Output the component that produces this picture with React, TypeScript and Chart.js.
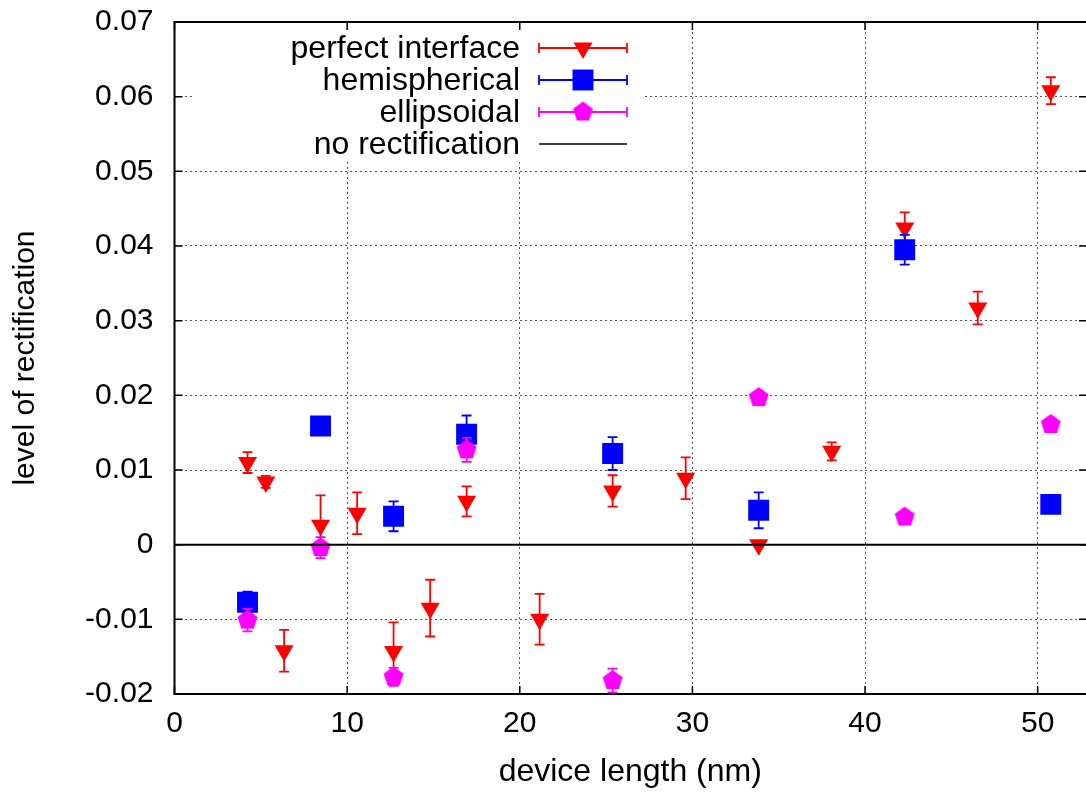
import React, { useEffect, useRef } from "react";
import { Chart, registerables } from "chart.js";

Chart.register(...registerables);

// ---- data ----
const xPerfect = [4.23, 5.29, 6.35, 8.46, 10.58, 12.69, 14.81, 16.92, 21.15, 25.38, 29.61, 33.84, 38.07, 42.3, 46.53, 50.76];
const yPerfect = [0.011, 0.0084, -0.0142, 0.0026, 0.0042, -0.0143, -0.0085, 0.0058, -0.01, 0.0072, 0.0089, 0.0, 0.0125, 0.0424, 0.0317, 0.0608];
const ePerfect = [0.0014, 0.0008, 0.0028, 0.004, 0.0028, 0.0039, 0.0038, 0.002, 0.0034, 0.0021, 0.0028, 0.0003, 0.0012, 0.0021, 0.0022, 0.0018];

const xHemi = [4.23, 8.46, 12.69, 16.92, 25.38, 33.84, 42.3, 50.76];
const yHemi = [-0.0077, 0.0159, 0.0038, 0.0148, 0.0122, 0.0046, 0.0395, 0.0054];
const eHemi = [0.0014, 0.0004, 0.002, 0.0025, 0.0022, 0.0024, 0.002, 0.0004];

const xEll = [4.23, 8.46, 12.69, 16.92, 25.38, 33.84, 42.3, 50.76];
const yEll = [-0.0101, -0.0004, -0.0177, 0.0127, -0.0182, 0.0197, 0.0037, 0.0161];
const eEll = [0.0015, 0.0014, 0.0012, 0.0016, 0.0016, 0.0008, 0.0007, 0.0004];

const legendLabels = ["perfect interface", "hemispherical", "ellipsoidal", "no rectification"];
const xTitle = "device length (nm)";
const yTitle = "level of rectification";
const xMin = 0, xMax = 52.8, xStep = 10;
const yMin = -0.02, yMax = 0.07, yStep = 0.01;

const RED = "#ff0000", BLUE = "#0000ff", MAGENTA = "#ff00ff";
const FONT = "'Liberation Sans', Arial, Helvetica, sans-serif";
const TRI_R = 11, SQ_R = 14.8, PENT_R = 10.5;

function makePentagon(color: string, R: number) {
  const c = document.createElement("canvas");
  const s = Math.ceil(2 * R + 2);
  c.width = s;
  c.height = s;
  const ctx = c.getContext("2d")!;
  ctx.fillStyle = color;
  ctx.beginPath();
  for (let k = 0; k < 5; k++) {
    const a = -Math.PI / 2 + (k * 2 * Math.PI) / 5;
    const px = s / 2 + R * Math.cos(a);
    const py = s / 2 + R * Math.sin(a);
    if (k === 0) ctx.moveTo(px, py);
    else ctx.lineTo(px, py);
  }
  ctx.closePath();
  ctx.fill();
  return c;
}

const errorBarPlugin = {
  id: "errorBars",
  beforeDatasetDraw(chart: any, args: any) {
    const ds: any = chart.data.datasets[args.index];
    if (!ds.errors) return;
    const xs = chart.scales.x, ys = chart.scales.y;
    const ctx = chart.ctx;
    ctx.save();
    ctx.strokeStyle = ds.errorColor;
    ctx.lineWidth = 1.8;
    ds.data.forEach((p: any, i: number) => {
      const px = xs.getPixelForValue(p.x);
      const y1 = ys.getPixelForValue(p.y + ds.errors[i]);
      const y2 = ys.getPixelForValue(p.y - ds.errors[i]);
      ctx.beginPath();
      ctx.moveTo(px, y1);
      ctx.lineTo(px, y2);
      ctx.moveTo(px - 5, y1);
      ctx.lineTo(px + 5, y1);
      ctx.moveTo(px - 5, y2);
      ctx.lineTo(px + 5, y2);
      ctx.stroke();
    });
    ctx.restore();
  },
};

function drawTri(ctx: CanvasRenderingContext2D, x: number, y: number, r: number, color: string) {
  ctx.fillStyle = color;
  ctx.beginPath();
  for (let k = 0; k < 3; k++) {
    const a = Math.PI + (k * 2 * Math.PI) / 3;
    const px = x + Math.sin(a) * r;
    const py = y - Math.cos(a) * r;
    if (k === 0) ctx.moveTo(px, py);
    else ctx.lineTo(px, py);
  }
  ctx.closePath();
  ctx.fill();
}

function makeFramePlugin(pent: HTMLCanvasElement) {
  return {
    id: "frameLegend",
    afterDraw(chart: any) {
      const ctx: CanvasRenderingContext2D = chart.ctx;
      const { left, top, bottom } = chart.chartArea;
      const right = chart.width;
      const xs = chart.scales.x, ys = chart.scales.y;
      ctx.save();
      // legend box (opaque)
      ctx.fillStyle = "#fff";
      ctx.fillRect(192, top + 2, 453, 138);
      const rows = [48, 80, 112, 144];
      const colors = [RED, BLUE, MAGENTA, "#000"];
      ctx.font = `32px ${FONT}`;
      ctx.textAlign = "right";
      ctx.textBaseline = "middle";
      legendLabels.forEach((lab, i) => {
        const ry = rows[i];
        ctx.fillStyle = "#000";
        ctx.fillText(lab, 520, ry + 1);
        ctx.strokeStyle = colors[i];
        ctx.lineWidth = i === 3 ? 1.5 : 1.8;
        ctx.beginPath();
        ctx.moveTo(539, ry);
        ctx.lineTo(627, ry);
        if (i < 3) {
          ctx.moveTo(539, ry - 5);
          ctx.lineTo(539, ry + 5);
          ctx.moveTo(627, ry - 5);
          ctx.lineTo(627, ry + 5);
        }
        ctx.stroke();
        const mx = 583;
        if (i === 0) drawTri(ctx, mx, ry, TRI_R, RED);
        if (i === 1) {
          const h = SQ_R * Math.SQRT1_2;
          ctx.fillStyle = BLUE;
          ctx.fillRect(mx - h, ry - h, 2 * h, 2 * h);
        }
        if (i === 2) ctx.drawImage(pent, mx - pent.width / 2, ry - pent.height / 2);
      });
      // frame
      ctx.strokeStyle = "#000";
      ctx.lineWidth = 2;
      ctx.beginPath();
      ctx.moveTo(right + 2, top);
      ctx.lineTo(left, top);
      ctx.lineTo(left, bottom);
      ctx.lineTo(right + 2, bottom);
      ctx.stroke();
      // inward ticks
      ctx.lineWidth = 1.5;
      ctx.beginPath();
      xs.ticks.forEach((t: any) => {
        const px = xs.getPixelForValue(t.value);
        ctx.moveTo(px, bottom);
        ctx.lineTo(px, bottom - 8);
        ctx.moveTo(px, top);
        ctx.lineTo(px, top + 8);
      });
      ys.ticks.forEach((t: any) => {
        const py = ys.getPixelForValue(t.value);
        ctx.moveTo(left, py);
        ctx.lineTo(left + 8, py);
        ctx.moveTo(right, py);
        ctx.lineTo(right - 7, py);
      });
      ctx.stroke();
      ctx.restore();
    },
  };
}

export default function App() {
  const ref = useRef<HTMLCanvasElement | null>(null);
  useEffect(() => {
    if (!ref.current) return;
    const pent = makePentagon(MAGENTA, PENT_R);
    const pts = (xs: number[], ys: number[]) => xs.map((x, i) => ({ x, y: ys[i] }));
    const chart = new Chart(ref.current, {
      type: "scatter",
      data: {
        datasets: [
          {
            label: legendLabels[0],
            data: pts(xPerfect, yPerfect),
            pointStyle: "triangle",
            pointRotation: 180,
            pointRadius: TRI_R,
            backgroundColor: RED,
            borderWidth: 0,
            order: 3,
            errors: ePerfect,
            errorColor: RED,
          } as any,
          {
            label: legendLabels[1],
            data: pts(xHemi, yHemi),
            pointStyle: "rect",
            pointRadius: SQ_R,
            backgroundColor: BLUE,
            borderWidth: 0,
            order: 2,
            errors: eHemi,
            errorColor: BLUE,
          } as any,
          {
            label: legendLabels[2],
            data: pts(xEll, yEll),
            pointStyle: pent,
            pointRadius: PENT_R,
            backgroundColor: MAGENTA,
            borderWidth: 0,
            order: 1,
            errors: eEll,
            errorColor: MAGENTA,
          } as any,
          {
            type: "line",
            label: legendLabels[3],
            data: [
              { x: xMin, y: 0 },
              { x: xMax, y: 0 },
            ],
            borderColor: "#000",
            borderWidth: 2,
            pointRadius: 0,
            order: 0,
          } as any,
        ],
      },
      options: {
        responsive: false,
        animation: false,
        events: [],
        layout: { autoPadding: false, padding: { left: 0, right: 0, top: 22, bottom: 0 } },
        plugins: { legend: { display: false }, tooltip: { enabled: false } },
        scales: {
          x: {
            type: "linear",
            min: xMin,
            max: xMax,
            ticks: {
              stepSize: xStep,
              includeBounds: false,
              maxRotation: 0,
              color: "#000",
              padding: 12,
              font: { family: FONT, size: 30 },
              callback: (v: any) => String(Math.round(Number(v))),
            },
            grid: { color: "#555", lineWidth: 1, drawTicks: false, borderDash: [2, 3] } as any,
            border: { display: false, dash: [2, 3] },
            title: {
              display: true,
              text: xTitle,
              color: "#000",
              font: { family: FONT, size: 32 },
              padding: { top: 0, bottom: 6 },
            },
            afterFit: (s: any) => {
              s.height = 103;
              s.paddingLeft = 0;
              s.paddingRight = 0;
            },
          },
          y: {
            type: "linear",
            min: yMin,
            max: yMax,
            ticks: {
              stepSize: yStep,
              color: "#000",
              padding: 21,
              font: { family: FONT, size: 30 },
              callback: (v: any) => (Math.abs(Number(v)) < 1e-9 ? "0" : Number(v).toFixed(2)),
            },
            grid: { color: "#555", lineWidth: 1, drawTicks: false, borderDash: [2, 3] } as any,
            border: { display: false, dash: [2, 3] },
            title: {
              display: true,
              text: yTitle,
              color: "#000",
              font: { family: FONT, size: 30 },
              padding: { top: 8, bottom: 0 },
            },
            afterFit: (s: any) => {
              s.width = 174.5;
              s.paddingTop = 0;
              s.paddingBottom = 0;
            },
          },
        },
      } as any,
      plugins: [errorBarPlugin as any, makeFramePlugin(pent) as any],
    });
    return () => chart.destroy();
  }, []);
  return (
    <div style={{ position: "absolute", left: 0, top: 0, width: 1086, height: 797, background: "#fff" }}>
      <canvas ref={ref} width={1086} height={797} />
    </div>
  );
}
